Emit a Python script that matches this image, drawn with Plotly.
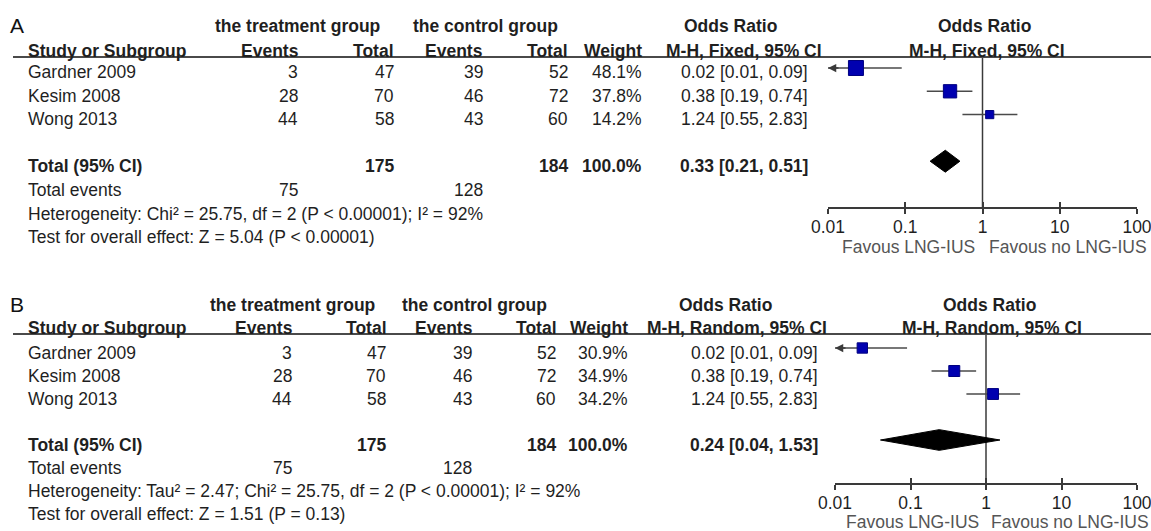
import math
import plotly.graph_objects as go

# ---------------- data ----------------
studies = ["Gardner 2009", "Kesim 2008", "Wong 2013"]
t_events = [3, 28, 44]
t_total = [47, 70, 58]
c_events = [39, 46, 43]
c_total = [52, 72, 60]
weight_fixed = [48.1, 37.8, 14.2]
weight_random = [30.9, 34.9, 34.2]
total_weight = 100.0
or_est = [0.023, 0.38, 1.24]
or_lo = [0.01, 0.19, 0.55]
or_hi = [0.09, 0.74, 2.83]
total_fixed = [0.33, 0.21, 0.51]
total_random = [0.24, 0.04, 1.53]
sum_t_total = 175
sum_c_total = 184
sum_t_events = 75
sum_c_events = 128
het_fixed = "Heterogeneity: Chi² = 25.75, df = 2 (P < 0.00001); I² = 92%"
test_fixed = "Test for overall effect: Z = 5.04 (P < 0.00001)"
het_random = "Heterogeneity: Tau² = 2.47; Chi² = 25.75, df = 2 (P < 0.00001); I² = 92%"
test_random = "Test for overall effect: Z = 1.51 (P = 0.13)"
tick_vals = [0.01, 0.1, 1, 10, 100]
tick_text = ["0.01", "0.1", "1", "10", "100"]
favours = ["Favous LNG-IUS", "Favous no LNG-IUS"]

# ---------------- layout helpers ----------------
W, H = 1151, 531
FONT = "Liberation Sans, Arial, Helvetica, sans-serif"
TXT = "#1f1f1f"
FS = 17.5


def fx(p):
    return p / W


def fy(p):
    return 1 - p / H


panels = [
    dict(label="A", method="M-H, Fixed, 95% CI", weights=weight_fixed, total=total_fixed,
         het=het_fixed, test=test_fixed,
         label_y=25, h1=26, h2=50.5, rule=57, row0=68, step=23.3, text_dy=4, text_step=23.6,
         axis_y=207, px0=828, px1=1137,
         col=dict(te=298, tt=394, ce=483, ct=568, w=642, orr=808),
         hcol=dict(te=299, tt=394, ce=483, ct=568, w=642, orr=822),
         grp_t=298, grp_c=485, or_hdr=730, forest_c=984, fav=(908, 1068), fav_dy=40,
         sq_ref=15, xa="x", ya="y", xo="x3", dh=0.47),
    dict(label="B", method="M-H, Random, 95% CI", weights=weight_random, total=total_random,
         het=het_random, test=test_random,
         label_y=304, h1=305, h2=327.5, rule=334, row0=348, step=23.0, text_dy=5, text_step=23.0,
         axis_y=483, px0=835, px1=1137,
         col=dict(te=292, tt=386, ce=472, ct=556, w=628, orr=818),
         hcol=dict(te=293, tt=387, ce=473, ct=557, w=628, orr=827),
         grp_t=292, grp_c=474, or_hdr=725, forest_c=989, fav=(912, 1070), fav_dy=39,
         sq_ref=11, xa="x2", ya="y2", xo="x4", dh=0.45),
]

fig = go.Figure()
annotations = []
shapes = []
layout_axes = {}


def txt(x, y, s, anchor="left", size=FS, color=TXT):
    annotations.append(dict(x=fx(x), y=fy(y), xref="paper", yref="paper", text=s,
                            showarrow=False, xanchor=anchor, yanchor="middle",
                            borderpad=0, borderwidth=0,
                            font=dict(family=FONT, size=size, color=color)))


for idx, p in enumerate(panels):
    rows = [0, 1, 2]
    r_total, r_events, r_het, r_test = 4, 5, 6, 7

    def ty(k, p=p):
        return p["row0"] + p["text_dy"] + k * p["text_step"]

    c = p["col"]
    hc = p["hcol"]
    # panel label and headers
    txt(10, p["label_y"], p["label"], size=21, color="#111")
    txt(p["grp_t"], p["h1"], "<b>the treatment group</b>", anchor="center")
    txt(p["grp_c"], p["h1"], "<b>the control group</b>", anchor="center")
    txt(p["or_hdr"], p["h1"], "<b>Odds Ratio</b>", anchor="center")
    txt(p["forest_c"], p["h1"], "<b>Odds Ratio</b>", anchor="center")
    txt(28, p["h2"], "<b>Study or Subgroup</b>")
    txt(hc["te"], p["h2"], "<b>Events</b>", anchor="right")
    txt(hc["tt"], p["h2"], "<b>Total</b>", anchor="right")
    txt(hc["ce"], p["h2"], "<b>Events</b>", anchor="right")
    txt(hc["ct"], p["h2"], "<b>Total</b>", anchor="right")
    txt(hc["w"], p["h2"], "<b>Weight</b>", anchor="right")
    txt(hc["orr"], p["h2"], "<b>" + p["method"] + "</b>", anchor="right")
    txt(p["forest_c"] + 3, p["h2"], "<b>" + p["method"] + "</b>", anchor="center")

    # study rows
    for i in rows:
        y = ty(i)
        txt(28, y, studies[i])
        txt(c["te"], y, str(t_events[i]), anchor="right")
        txt(c["tt"], y, str(t_total[i]), anchor="right")
        txt(c["ce"], y, str(c_events[i]), anchor="right")
        txt(c["ct"], y, str(c_total[i]), anchor="right")
        txt(c["w"], y, f"{p['weights'][i]:.1f}%", anchor="right")
        txt(c["orr"], y, f"{or_est[i]:.2f} [{or_lo[i]:.2f}, {or_hi[i]:.2f}]", anchor="right")

    tot = p["total"]
    y = ty(r_total)
    txt(28, y, "<b>Total (95% CI)</b>")
    txt(c["tt"], y, f"<b>{sum_t_total}</b>", anchor="right")
    txt(c["ct"], y, f"<b>{sum_c_total}</b>", anchor="right")
    txt(c["w"], y, f"<b>{total_weight:.1f}%</b>", anchor="right")
    txt(c["orr"], y, f"<b>{tot[0]:.2f} [{tot[1]:.2f}, {tot[2]:.2f}]</b>", anchor="right")
    y = ty(r_events)
    txt(28, y, "Total events")
    txt(c["te"], y, str(sum_t_events), anchor="right")
    txt(c["ce"], y, str(sum_c_events), anchor="right")
    txt(28, ty(r_het), p["het"])
    txt(28, ty(r_test), p["test"])

    # header rule
    shapes.append(dict(type="line", xref="paper", yref="paper", x0=fx(13), x1=1,
                       y0=fy(p["rule"]), y1=fy(p["rule"]),
                       line=dict(color="#4a4a4a", width=2)))

    # forest axes
    xa, ya, xo = p["xa"], p["ya"], p["xo"]
    xkey = "xaxis" if xa == "x" else "xaxis" + xa[1:]
    ykey = "yaxis" if ya == "y" else "yaxis" + ya[1:]
    okey = "xaxis" + xo[1:]
    ytop = -(p["row0"] - p["rule"]) / p["step"]
    ybot = (p["axis_y"] - p["row0"]) / p["step"]
    eps = 1e-6
    common = dict(type="log", range=[math.log10(tick_vals[0]) - eps, math.log10(tick_vals[-1]) + eps],
                  domain=[fx(p["px0"]), fx(p["px1"])], tickvals=tick_vals,
                  showgrid=False, zeroline=False, fixedrange=True, automargin=False)
    layout_axes[xkey] = dict(common, anchor=ya, showline=True, linecolor="#3a3a3a", linewidth=2,
                             ticks="outside", ticklen=5, tickwidth=2, tickcolor="#3a3a3a",
                             ticktext=tick_text, ticklabelstandoff=-2, ticklabeloverflow="allow",
                             tickfont=dict(family=FONT, size=FS, color=TXT))
    layout_axes[okey] = dict(common, anchor=ya, overlaying=xa, showline=False,
                             ticks="inside", ticklen=5, tickwidth=2, tickcolor="#3a3a3a",
                             showticklabels=False)
    layout_axes[ykey] = dict(domain=[fy(p["axis_y"]), fy(p["rule"])], range=[ybot, ytop],
                             visible=False, showgrid=False, zeroline=False, fixedrange=True,
                             anchor=xa, automargin=False)

    # line of no effect
    shapes.append(dict(type="line", xref=xa, yref=ya + " domain", x0=1, x1=1, y0=0, y1=1,
                       line=dict(color="#3a3a3a", width=1.5), layer="below"))

    # CI lines
    for i in rows:
        fig.add_trace(go.Scatter(x=[or_lo[i], or_hi[i]], y=[i, i], mode="lines",
                                 line=dict(color="#4a4a4a", width=1.5),
                                 xaxis=xa, yaxis=ya, hoverinfo="skip", showlegend=False))
        if or_lo[i] <= tick_vals[0]:
            annotations.append(dict(x=math.log10(tick_vals[0]), y=i, xref=xa, yref=ya, text="",
                                    showarrow=True, ax=12, ay=0, arrowhead=2, arrowsize=1.1,
                                    arrowwidth=1.5, arrowcolor="#3a3a3a", standoff=0))
    # squares
    wmax = max(p["weights"])
    sizes = [p["sq_ref"] * math.sqrt(w / wmax) for w in p["weights"]]
    fig.add_trace(go.Scatter(x=or_est, y=rows, mode="markers",
                             marker=dict(symbol="square", size=sizes, color="#0000b0", opacity=1,
                                         line=dict(color="#000080", width=1)),
                             xaxis=xa, yaxis=ya, hoverinfo="skip", showlegend=False))
    # diamond
    est, lo, hi = tot
    dh = p["dh"]
    fig.add_trace(go.Scatter(x=[lo, est, hi, est, lo],
                             y=[r_total, r_total - dh, r_total, r_total + dh, r_total],
                             mode="lines", fill="toself", fillcolor="#000000",
                             line=dict(color="#000000", width=1),
                             xaxis=xa, yaxis=ya, hoverinfo="skip", showlegend=False))
    # invisible trace on overlay axis so the inner ticks get drawn
    fig.add_trace(go.Scatter(x=[tick_vals[2]], y=[0], mode="markers", marker=dict(size=1, opacity=0),
                             xaxis=xo, yaxis=ya, hoverinfo="skip", showlegend=False))

    # favours labels
    fav_y = p["axis_y"] + p["fav_dy"]
    txt(p["fav"][0], fav_y, favours[0], anchor="center", color="#555555")
    txt(p["fav"][1], fav_y, favours[1], anchor="center", color="#555555")

fig.update_layout(width=W, height=H, margin=dict(l=0, r=0, t=0, b=0, pad=0, autoexpand=False),
                  paper_bgcolor="white", plot_bgcolor="rgba(0,0,0,0)",
                  showlegend=False, annotations=annotations, shapes=shapes,
                  font=dict(family=FONT, size=FS, color=TXT), **layout_axes)

fig.write_html("out.html", config={"displayModeBar": False},
               post_script="document.body.style.margin='0px';")
